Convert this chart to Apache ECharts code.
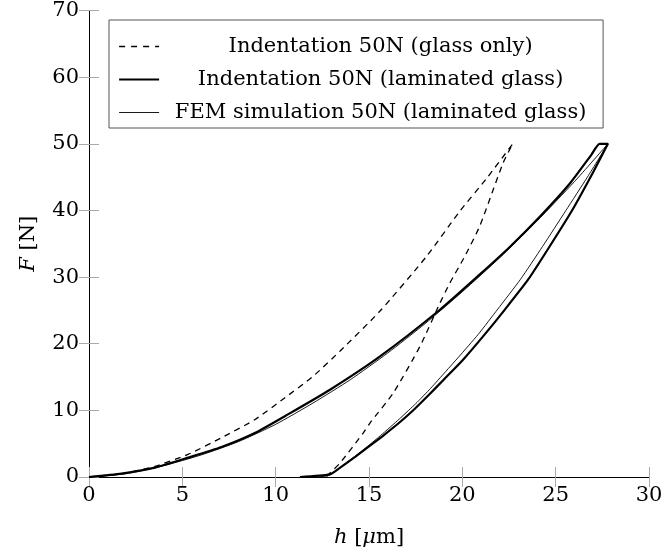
<!DOCTYPE html>
<html>
<head>
<meta charset="utf-8">
<script src="https://cdn.jsdelivr.net/npm/echarts@6/dist/echarts.min.js"></script>
<style>html,body{margin:0;padding:0;background:#fff}#c{width:666px;height:556px}</style>
</head>
<body>
<div id="c"></div>
<script>
// Indentation 50N (glass only): loading then unloading, [h (µm), F (N)]
var glassLoad = [[0,0],[1.75,0.5],[3.53,1.6],[5.31,3.4],[7.1,5.9],[8.88,8.6],[10.5,11.9],[12.0,15.1],[13.45,18.9],[15.59,24.9],[18.08,33.1],[19.87,39.9],[21.3,44.8],[22.7,50]];
var glassUnload = [[22.7,50],[22.18,47.1],[20.94,37.7],[20.13,33.1],[19.33,29.1],[18.8,26.1],[17.73,19.6],[16.3,12.6],[15.05,8.1],[14.69,6.6],[13.45,2.1],[12.91,0.6],[12.7,0]];
// Indentation 50N (laminated glass)
var lamLoad = [[0,0],[1.75,0.5],[3.53,1.4],[5.31,2.9],[7.1,4.5],[8.88,6.6],[10.66,9.4],[12.91,13.1],[15.59,18.1],[18.8,25.1],[20.94,30.4],[22.5,34.4],[24.2,39.2],[25.75,44.0],[26.9,48.3],[27.35,50],[27.8,50]];
var lamUnload = [[27.8,50],[27.0,45.7],[25.9,40.1],[24.7,34.7],[23.52,29.6],[22.3,25.2],[21.2,21.4],[20.04,17.6],[19.0,14.6],[18.2,12.3],[17.4,10.1],[16.6,8.1],[15.8,6.3],[15.0,4.6],[14.2,2.9],[13.4,1.3],[12.9,0.4],[11.3,0]];
// FEM simulation 50N (laminated glass)
var femLoad = [[0,0],[2,0.5],[4,1.7],[6,3.3],[8,5.3],[10,7.9],[12,11.1],[14,14.6],[16,18.6],[18,23.0],[20,27.8],[22,32.9],[24,38.4],[26,44.3],[27.8,50]];
var femUnload = [[27.8,50],[26.7,45.0],[25.55,40.0],[24.3,34.6],[23.1,29.6],[21.9,25.2],[20.85,21.4],[19.8,18.0],[19.1,15.8],[18.3,13.3],[17.5,11.0],[16.7,8.9],[15.9,6.9],[15.1,5.0],[14.3,3.2],[13.5,1.5],[12.9,0.3],[12.3,0]];

var seriesNames = ['Indentation 50N (glass only)','Indentation 50N (laminated glass)','FEM simulation 50N (laminated glass)'];
var xTicks = [0,5,10,15,20,25,30];
var yTicks = [0,10,20,30,40,50,60,70];

var FONT = 'DejaVu Serif';
var FS = 21;
var widths = [1.3, 2.2, 0.9];
var chart = echarts.init(document.getElementById('c'), null, {renderer:'canvas'});
var tickStyle = {show:true, inside:true, length:10, lineStyle:{color:'#aaaaaa', width:1}};
var lineAx = {show:true, lineStyle:{color:'#000', width:1}};
chart.setOption({
  animation:false,
  backgroundColor:'#fff',
  grid:{left:89, top:10, width:560, height:467, containLabel:false},
  legend:{
    orient:'vertical', left:109, top:20,
    padding:[16,6,5,9], itemGap:12, itemWidth:40, itemHeight:14,
    borderColor:'#555', borderWidth:1, backgroundColor:'#fff',
    data:seriesNames.map(function(n,i){
      return {name:n, itemStyle:{opacity:0},
        lineStyle:{color:'#000', width:widths[i], type:i===0?[6,6]:'solid'}};
    }),
    itemStyle:{opacity:0},
    formatter:function(n){return '{t|'+n+'}';},
    textStyle:{fontFamily:FONT, fontSize:FS, color:'#000',
      rich:{t:{fontFamily:FONT, fontSize:FS, width:433, align:'center', lineHeight:22, color:'#000'}}}
  },
  xAxis:[{
    type:'value', min:0, max:30, interval:5, position:'bottom',
    axisLine:lineAx, axisTick:tickStyle, splitLine:{show:false},
    axisLabel:{fontFamily:FONT, fontSize:FS, color:'#000', margin:8,
      formatter:function(v){return xTicks.indexOf(v)>=0?String(v):'';}},
    name:'{i|h} [{i|μ}m]', nameLocation:'middle', nameGap:50,
    nameTextStyle:{fontFamily:FONT, fontSize:FS, color:'#000', rich:{i:{fontFamily:FONT, fontStyle:'italic', fontSize:FS, color:'#000'}}}
  },{
    type:'value', min:0, max:30, interval:5, position:'top',
    axisLine:lineAx, axisTick:tickStyle, axisLabel:{show:false}, splitLine:{show:false}
  }],
  yAxis:[{
    type:'value', min:0, max:70, interval:10, position:'left',
    axisLine:lineAx, axisTick:tickStyle, splitLine:{show:false},
    axisLabel:{fontFamily:FONT, fontSize:FS, color:'#000', margin:10,
      formatter:function(v){return yTicks.indexOf(v)>=0?String(v):'';}},
    name:'{i|F} [N]', nameLocation:'middle', nameGap:50, nameRotate:90,
    nameTextStyle:{fontFamily:FONT, fontSize:FS, color:'#000', rich:{i:{fontFamily:FONT, fontStyle:'italic', fontSize:FS, color:'#000'}}}
  },{
    type:'value', min:0, max:70, interval:10, position:'right',
    axisLine:lineAx, axisTick:tickStyle, axisLabel:{show:false}, splitLine:{show:false}
  }],
  series:[{
    name:seriesNames[0], type:'line', symbol:'none', smooth:0.2,
    data:glassLoad.concat(glassUnload.slice(1)),
    itemStyle:{color:'#000'},
    lineStyle:{color:'#000', width:widths[0], type:[6,5]}
  },{
    name:seriesNames[1], type:'line', symbol:'none', smooth:0.2,
    data:lamLoad.concat(lamUnload.slice(1)),
    itemStyle:{color:'#000'},
    lineStyle:{color:'#000', width:widths[1]}
  },{
    name:seriesNames[2], type:'line', symbol:'none', smooth:0.2,
    data:femLoad.concat(femUnload.slice(1)),
    itemStyle:{color:'#000'},
    lineStyle:{color:'#000', width:widths[2]}
  }]
});
</script>
</body>
</html>
